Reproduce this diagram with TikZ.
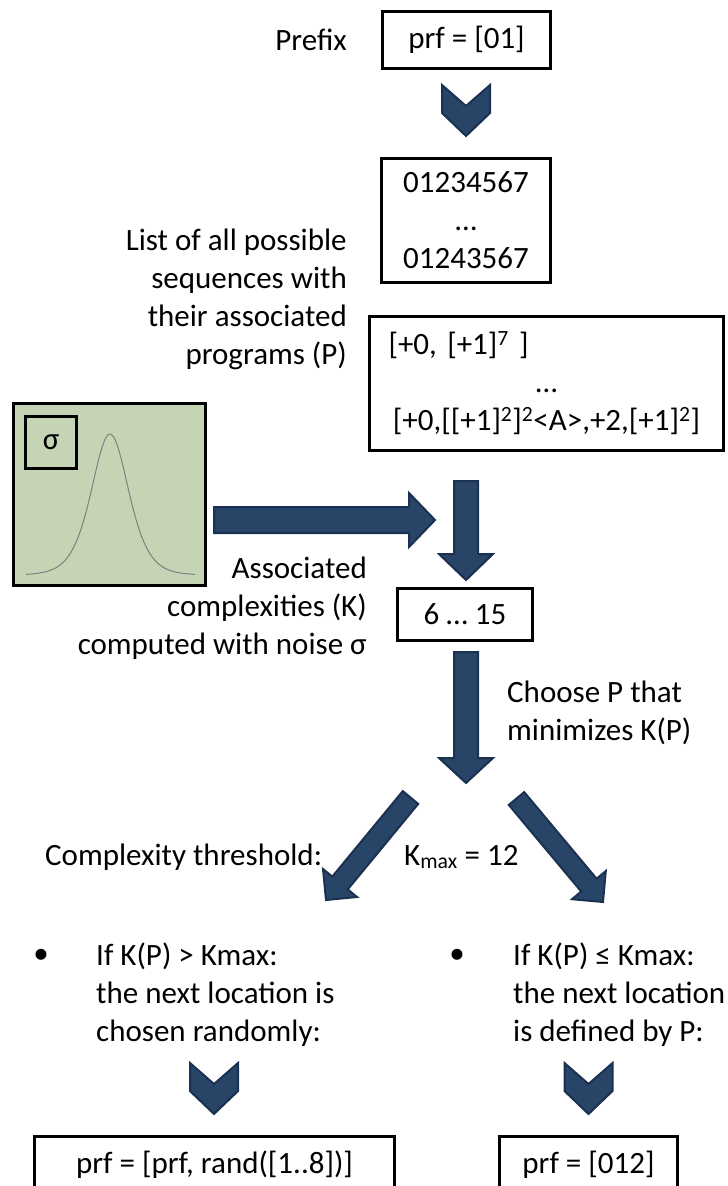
\documentclass[tikz,border=0pt]{standalone}
\usepackage{fontspec}
\setmainfont{Carlito}
\usetikzlibrary{positioning}
\definecolor{arrowfill}{HTML}{284466}
\definecolor{arrowedge}{HTML}{1A3152}
\definecolor{noisegreen}{HTML}{C6D4B6}
\definecolor{curvegray}{HTML}{7F7F7F}

\begin{document}
\begin{tikzpicture}[x=1pt, y=-1pt, font=\fontsize{31}{38}\selectfont]
    % Styles
    \tikzstyle{seqbox} = [rectangle, draw, line width=3pt, align=center, inner sep=0pt]
    \tikzstyle{txt} = [inner sep=0pt]
    \tikzstyle{bigarrow} = [fill=arrowfill, draw=arrowedge, line width=2pt, line join=miter]
    \tikzstyle{chevron} = [fill=arrowfill, draw=arrowedge, line width=2pt, line join=miter]

    \clip (0,0) rectangle (728,1186);
    \fill [white] (0,0) rectangle (728,1186);

    % === TOP: Prefix and candidate sequences ===
    \node [seqbox, minimum width=168pt, minimum height=57pt] (prf01) at (466.5,40) {prf = [01]};
    \node [txt, left=34pt of prf01] (prefixlbl) {Prefix};
    \node [seqbox, minimum width=169pt, minimum height=124pt] (seqs) at (466,220.5) {01234567\\…\\01243567};
    \node [seqbox, minimum width=354pt, minimum height=134pt, text width=316pt, inner xsep=19pt] (progs) at (546.5,383)
        {\hbox to \linewidth{[+0, [+1]\textsuperscript{7} ]\hfill}\\…\\{}[+0,[[+1]\textsuperscript{2}]\textsuperscript{2}<A>,+2,[+1]\textsuperscript{2}]};
    \node [txt, anchor=east, align=right] (listlbl) at (347,299) {List of all possible\\sequences with\\their associated\\programs (P)};

    % === MIDDLE: Noise and complexities ===
    \node [seqbox, fill=noisegreen, line width=3.5pt, minimum width=192pt, minimum height=182pt] (noise) at (109.5,494.5) {};
    \node [seqbox, minimum width=51pt, minimum height=52pt] (sigmabox) at (51,442.5) {σ};
    \draw [curvegray, line width=1pt] plot [domain=26:195, samples=90, smooth] (\x, {575-141/(cosh((\x-110)/25))^2});
    \node [seqbox, minimum width=135pt, minimum height=52pt] (kvals) at (465,614.5) {6 … 15};
    \node [txt, anchor=east, align=right] (assoclbl) at (367,608.5) {Associated\\complexities (K)\\computed with noise σ};
    \node [txt, anchor=west, align=left] (chooselbl) at (507,712.5) {Choose P that\\minimizes K(P)};

    % === BOTTOM: Threshold and the two cases ===
    \node [txt, anchor=west] (threshlbl) at (45,857) {Complexity threshold:};
    \node [txt, anchor=west] (kmaxlbl) at (404,857) {K\textsubscript{max} = 12};
    \node [txt] (bulletL) at (41,956) {•};
    \node [txt] (bulletR) at (457,956) {•};
    \node [txt, anchor=west, align=left] (ruleL) at (96,995) {If K(P) > Kmax:\\the next location is\\chosen randomly:};
    \node [txt, anchor=west, align=left] (ruleR) at (513,995) {If K(P) ≤ Kmax:\\the next location\\is defined by P:};
    \node [seqbox, minimum width=360pt, minimum height=57pt] (prfrand) at (214.5,1165) {prf = [prf, rand([1..8])]};
    \node [seqbox, minimum width=178pt, minimum height=57pt] (prf012) at (588.5,1165) {prf = [012]};

    % === ARROWS: Chevrons ===
    \draw [chevron] (442,85) -- ++(24,21) -- ++(24,-21) -- ++(0,28) -- ++(-24,23) -- ++(-24,-23) -- cycle;
    \draw [chevron] (190,1063) -- ++(24,21) -- ++(24,-21) -- ++(0,28) -- ++(-24,23) -- ++(-24,-23) -- cycle;
    \draw [chevron] (564.5,1063) -- ++(24,21) -- ++(24,-21) -- ++(0,28) -- ++(-24,23) -- ++(-24,-23) -- cycle;

    % === ARROWS: Block arrows ===
    \draw [bigarrow] (214,507) -- (409,507) -- (409,493) -- (435,520) -- (409,547) -- (409,533) -- (214,533) -- cycle;
    \draw [bigarrow] (454,481) -- (478,481) -- (478,554) -- (493,554) -- (466,580) -- (439,554) -- (454,554) -- cycle;
    \draw [bigarrow] (454,652) -- (478,652) -- (478,758) -- (493,758) -- (466,783) -- (439,758) -- (454,758) -- cycle;
    \draw [bigarrow] (402.8,791.1) -- (418.2,803.9) -- (347.7,889.4) -- (357,897) -- (326,900) -- (323,869) -- (332.3,876.6) -- cycle;
    \draw [bigarrow] (508.8,804.9) -- (524.2,792.1) -- (596.6,878.7) -- (605.8,871) -- (603,902) -- (572,899.2) -- (581.2,891.5) -- cycle;
\end{tikzpicture}
\end{document}
